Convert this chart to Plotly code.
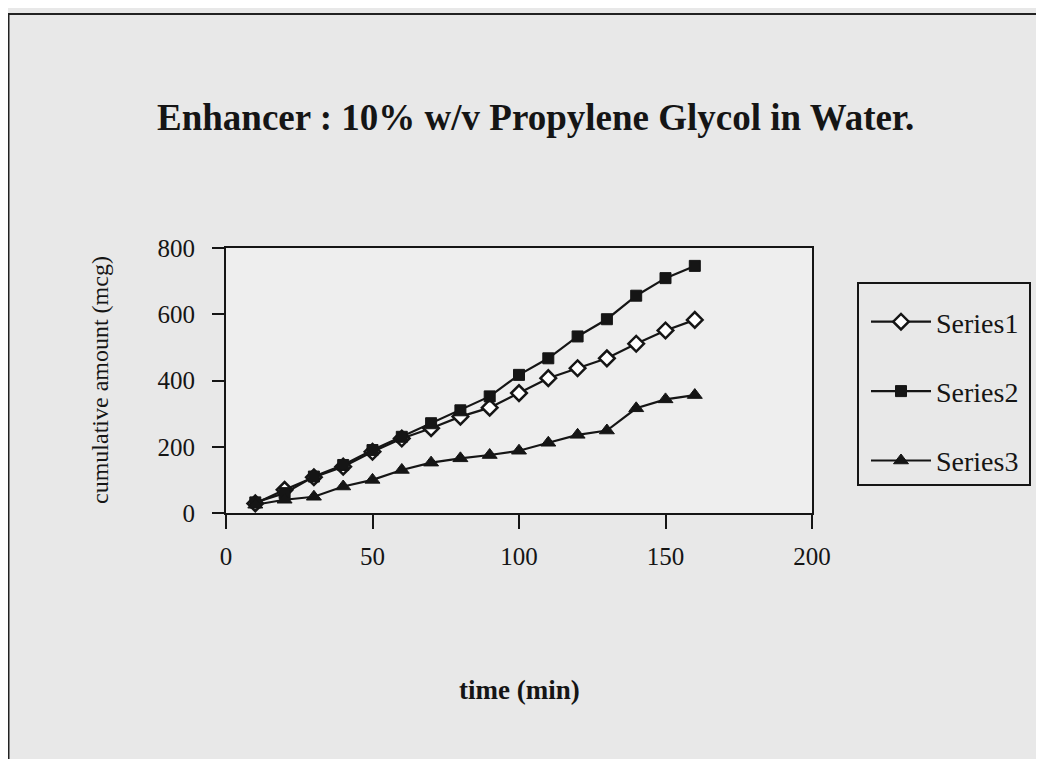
import plotly.graph_objects as go

# data
time_min = [10, 20, 30, 40, 50, 60, 70, 80, 90, 100, 110, 120, 130, 140, 150, 160]
series1 = [29, 70, 108, 140, 185, 225, 256, 291, 318, 362, 407, 437, 467, 511, 551, 583]
series2 = [32, 60, 110, 145, 190, 230, 271, 310, 352, 417, 467, 533, 585, 656, 709, 746]
series3 = [25, 40, 49, 80, 100, 130, 152, 165, 175, 188, 212, 236, 249, 316, 343, 356]
series_names = ["Series1", "Series2", "Series3"]

title_text = "Enhancer : 10% w/v Propylene Glycol in Water."
x_title = "time (min)"
y_title = "cumulative amount (mcg)"

serif = "Liberation Serif, Times New Roman, serif"
paper_bg = "#e8e8e8"
ink = "#151515"

# the page body has an 8px margin, so the figure sits at (8, 8) in the window
OFF = 8
W, H = 1028, 751
left, right, top, bottom = 226 - OFF, 812 - OFF, 248 - OFF, 513 - OFF


def px_x(px):
    # window pixel -> paper x
    return (px - OFF - left) / (right - left)


def px_y(py):
    # window pixel -> paper y
    return (bottom - (py - OFF)) / (bottom - top)


fig = go.Figure()

styles = [
    dict(symbol="diamond", size=12, color="white", line=dict(color=ink, width=2.5)),
    dict(symbol="square", size=11, color=ink, line=dict(color=ink, width=1)),
    dict(symbol="triangle-up", size=13, color=ink, line=dict(color=ink, width=1)),
]

for i, (name, ys) in enumerate(zip(series_names, [series1, series2, series3])):
    fig.add_trace(go.Scatter(
        x=time_min, y=ys, name=name, mode="lines+markers",
        line=dict(color=ink, width=2.2),
        marker=styles[i],
        legendgroup=str(i),
    ))

fig.update_layout(
    width=W, height=H,
    margin=dict(l=left, r=W - right, t=top, b=H - bottom),
    paper_bgcolor=paper_bg,
    plot_bgcolor="#eeeeee",
    font=dict(family=serif, size=25, color=ink),
    showlegend=True,
    legend=dict(
        x=px_x(866), y=px_y(297), xanchor="left", yanchor="top",
        borderwidth=0, bgcolor="rgba(0,0,0,0)",
        font=dict(family=serif, size=28, color=ink),
        tracegroupgap=30, itemwidth=60,
    ),
    xaxis=dict(
        range=[0, 200], dtick=50, showgrid=False, zeroline=False,
        showline=True, linecolor=ink, linewidth=2, mirror=True,
        ticks="outside", ticklen=14, tickwidth=2, tickcolor=ink,
        ticklabelstandoff=6,
    ),
    yaxis=dict(
        range=[0, 800], dtick=200, showgrid=False, zeroline=False,
        showline=True, linecolor=ink, linewidth=2, mirror=True,
        ticks="outside", ticklen=12, tickwidth=2, tickcolor=ink,
        ticklabelstandoff=12,
    ),
    annotations=[
        dict(text="<b>" + title_text + "</b>", x=px_x(535), y=px_y(117),
             xanchor="center", yanchor="middle",
             xref="paper", yref="paper", showarrow=False,
             font=dict(family=serif, size=37, color=ink)),
        dict(text="<b>" + x_title + "</b>", x=px_x(519), y=px_y(690),
             xanchor="center", yanchor="middle",
             xref="paper", yref="paper", showarrow=False,
             font=dict(family=serif, size=27, color=ink)),
        dict(text=y_title, x=px_x(100), y=px_y(380), textangle=-90,
             xanchor="center", yanchor="middle",
             xref="paper", yref="paper", showarrow=False,
             font=dict(family=serif, size=24, color=ink)),
    ],
    shapes=[
        # outer frame of the chart
        dict(type="rect", xref="paper", yref="paper",
             x0=px_x(8.5), x1=px_x(1050), y0=px_y(800), y1=px_y(14),
             line=dict(color="#222", width=2), layer="below"),
        # legend frame
        dict(type="rect", xref="paper", yref="paper",
             x0=px_x(858), x1=px_x(1030), y0=px_y(485), y1=px_y(283),
             line=dict(color=ink, width=2), layer="below"),
    ],
)

fig.write_html("out.html")
